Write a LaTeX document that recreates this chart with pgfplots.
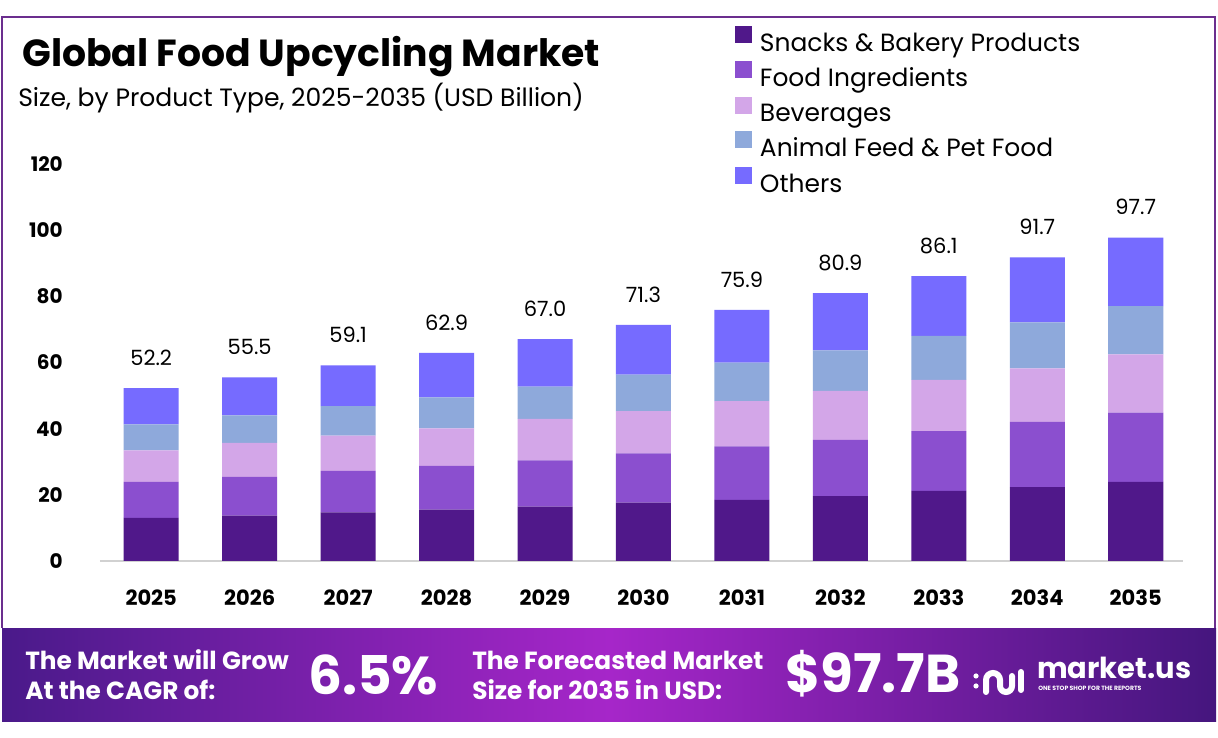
\documentclass[border=0pt]{standalone}
\usepackage{pgfplots}
\pgfplotsset{compat=1.18}
\usepackage{pgfplotstable}
\usepackage{fontspec}
\setmainfont{Poppins}
\definecolor{csnk}{HTML}{50188A}
\definecolor{cfi}{HTML}{8B4FCF}
\definecolor{cbev}{HTML}{D3A6E8}
\definecolor{cafp}{HTML}{8EA9DB}
\definecolor{coth}{HTML}{766BFF}
\definecolor{cframe}{HTML}{6B2E8E}
\definecolor{bl}{HTML}{4A1A8A}
\definecolor{bm}{HTML}{A626C9}
\definecolor{br}{HTML}{45167E}
\pgfplotstableread{
x snk fi bev afp oth total
0 13.0 10.9 9.5 7.9 10.9 52.2
1 13.7 11.7 10.3 8.3 11.5 55.5
2 14.7 12.5 10.7 8.9 12.3 59.1
3 15.5 13.2 11.4 9.3 13.5 62.9
4 16.4 14.0 12.5 9.8 14.3 67.0
5 17.6 14.9 12.8 11.0 15.0 71.3
6 18.5 16.1 13.7 11.6 16.0 75.9
7 19.6 17.0 14.8 12.2 17.3 80.9
8 21.2 18.0 15.5 13.3 18.1 86.1
9 22.3 19.7 16.2 13.9 19.6 91.7
10 23.9 20.9 17.6 14.6 20.7 97.7
}\datatable
\pgfplotsset{sqlegend/.style={legend image code/.code={\fill[##1] (0pt,0pt) rectangle (12.75pt,12.75pt);}}}
\begin{document}
\begin{tikzpicture}[x=0.75pt,y=0.75pt]
\useasboundingbox (0,0) rectangle (1218,738);
\fill[white] (0,0) rectangle (1218,738);
\draw[cframe, line width=1.5pt] (2,110) -- (2,721) -- (1215,721) -- (1215,110);
\shade[left color=bl, right color=br, middle color=bm] (2,16) rectangle (1216,109);
\node[anchor=base west, inner sep=0, font=\fontsize{28.3}{32}\selectfont\bfseries] at (22,671) {Global Food Upcycling Market};
\node[anchor=base west, inner sep=0, font=\fontsize{18.8}{22}\selectfont] at (18,631) {Size, by Product Type, 2025-2035 (USD Billion)};
\begin{axis}[at={(75pt,132.75pt)}, anchor=south west, scale only axis,
  width=812.25pt, height=297.9pt,
  xmin=-0.52, xmax=10.48, ymin=0, ymax=120,
  ybar stacked, bar width=41.25pt,
  axis x line*=bottom, axis y line*=left,
  y axis line style={draw=none},
  x axis line style={draw=black!18, line width=1pt},
  major tick length=0pt, tick style={draw=none},
  /pgf/number format/assume math mode=true,
  ytick={0,20,...,120},
  yticklabel style={font=\fontsize{15}{18}\selectfont\bfseries, anchor=east, inner sep=0pt, xshift=-27.75pt},
  xtick={0,...,10},
  xticklabels={2025,2026,2027,2028,2029,2030,2031,2032,2033,2034,2035},
  xticklabel style={font=\fontsize{15.75}{18}\selectfont\bfseries, anchor=north, inner sep=0pt, yshift=-21.4pt},
  legend style={at={(0.5863,1.347)}, anchor=north west, draw=none, fill=none,
    inner sep=0pt, outer sep=0pt,
    font=\fontsize{18.7}{22}\selectfont,
    nodes={inner sep=0pt},
    row sep=6pt, column sep=6pt},
  legend cell align=left,
  clip=false,
]
\addplot[fill=csnk, draw=none, sqlegend] table[x=x, y=snk] {\datatable};
\addlegendentry{Snacks \& Bakery Products}
\addplot[fill=cfi, draw=none, sqlegend] table[x=x, y=fi] {\datatable};
\addlegendentry{Food Ingredients}
\addplot[fill=cbev, draw=none, sqlegend] table[x=x, y=bev] {\datatable};
\addlegendentry{Beverages}
\addplot[fill=cafp, draw=none, sqlegend] table[x=x, y=afp] {\datatable};
\addlegendentry{Animal Feed \& Pet Food}
\addplot[fill=coth, draw=none, sqlegend] table[x=x, y=oth] {\datatable};
\addlegendentry{Others}
\end{axis}
\begin{axis}[at={(75pt,132.75pt)}, anchor=south west, scale only axis,
  width=812.25pt, height=297.9pt,
  xmin=-0.52, xmax=10.48, ymin=0, ymax=120,
  hide axis, clip=false,
  /pgf/number format/assume math mode=true,
]
\addplot[draw=none, mark=none, point meta=explicit,
  nodes near coords={\pgfmathprintnumber[fixed, fixed zerofill, precision=1]{\pgfplotspointmeta}},
  every node near coord/.style={font=\fontsize{15.75}{18}\selectfont, text=black, anchor=base, inner sep=0pt, yshift=17pt}]
  table[x=x, y=total, meta=total] {\datatable};
\end{axis}
\node[anchor=base west, inner sep=0, text=white, font=\fontsize{18.6}{20}\selectfont\bfseries] at (25,68) {The Market will Grow};
\node[anchor=base west, inner sep=0, text=white, font=\fontsize{18.6}{20}\selectfont\bfseries] at (25,38) {At the CAGR of:};
\node[anchor=base west, inner sep=0, text=white, font=\fontsize{40}{44}\selectfont\bfseries] at (308,43) {6.5\%};
\node[anchor=base west, inner sep=0, text=white, font=\fontsize{18.6}{20}\selectfont\bfseries] at (472,68) {The Forecasted Market};
\node[anchor=base west, inner sep=0, text=white, font=\fontsize{18.6}{20}\selectfont\bfseries] at (472,38) {Size for 2035 in USD:};
\node[anchor=base west, inner sep=0, text=white, font=\fontsize{40}{44}\selectfont\bfseries] at (785,45) {\$97.7B};
\fill[white] (976,62) circle (2.6);
\fill[white] (976,52) circle (2.6);
\draw[white, line width=4.5pt, line cap=round] (986,46) -- (986,58) arc (180:0:7) -- (1000,52) arc (180:360:6) -- (1012,62);
\draw[white, line width=4.5pt, line cap=round] (1021,48) -- (1021,66);
\node[anchor=base west, inner sep=0, text=white, font=\fontsize{21.7}{24}\selectfont\bfseries] at (1037,59) {market.us};
\node[anchor=base west, inner sep=0, text=white, font=\fontsize{4.6}{5}\selectfont\bfseries] at (1038,47) {ONE STOP SHOP FOR THE REPORTS};
\end{tikzpicture}
\end{document}
